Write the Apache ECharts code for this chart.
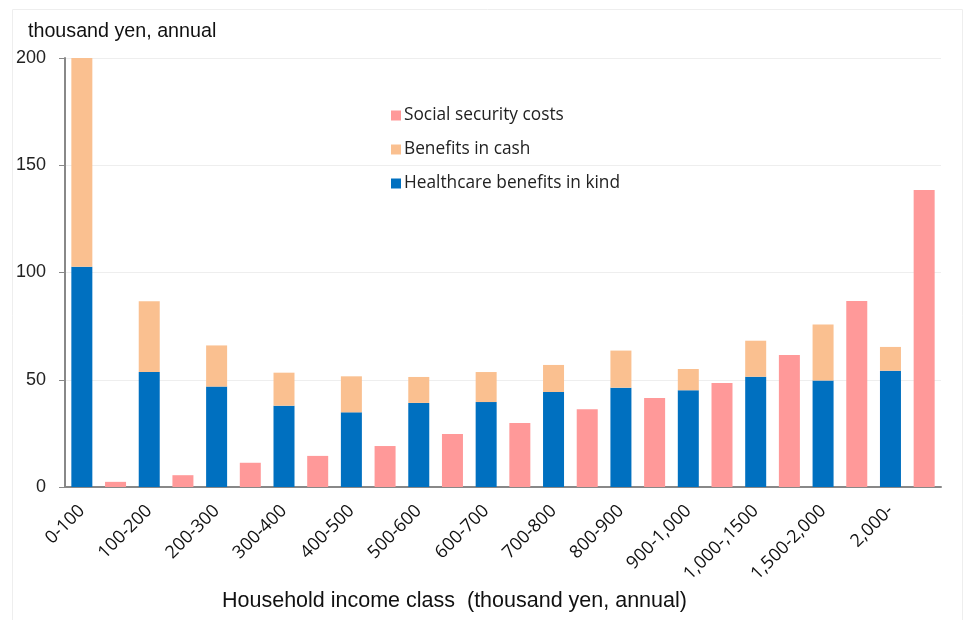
<!DOCTYPE html>
<html>
<head>
<meta charset="utf-8">
<script src="https://cdn.jsdelivr.net/npm/echarts@6/dist/echarts.min.js"></script>
<style>html,body{margin:0;padding:0;background:#fff;}#c{width:963px;height:620px;}</style>
</head>
<body>
<div id="c"></div>
<script>
const categories = ['0-100','100-200','200-300','300-400','400-500','500-600','600-700','700-800','800-900','900-1,000','1,000-,1500','1,500-2,000','2,000-'];
const healthcareInKind = [102.7, 53.6, 46.8, 37.9, 34.8, 39.2, 39.6, 44.3, 46.3, 45.1, 51.4, 49.7, 54.2];
const benefitsInCash   = [97.3, 33.0, 19.2, 15.4, 16.8, 12.1, 14.0, 12.6, 17.3, 9.9, 16.8, 26.1, 11.1];
const socialSecurityCosts = [2.4, 5.5, 11.3, 14.5, 19.1, 24.7, 29.8, 36.2, 41.5, 48.5, 61.5, 86.7, 138.5];
const yTicks = [0, 50, 100, 150, 200];

// 26 slots: benefit bar at even slot, cost bar at odd slot
const slots = [], hc = [], cash = [], cost = [];
categories.forEach((c, i) => {
  slots.push('b' + i, 'c' + i);
  hc.push(healthcareInKind[i], null);
  cash.push(benefitsInCash[i], null);
  cost.push(null, socialSecurityCosts[i]);
});

const chart = echarts.init(document.getElementById('c'));
chart.setOption({
  animation: false,
  backgroundColor: '#fff',
  graphic: [{
    type: 'rect', left: 10, top: 7,
    shape: { width: 950, height: 612 },
    style: { fill: 'none', stroke: '#eeeeee', lineWidth: 1 }
  }, {
    type: 'text', left: 28, top: 22,
    style: { text: 'thousand yen, annual', font: '19.7px "Liberation Sans", Arial, sans-serif', fill: '#111' }
  }, {
    type: 'text', left: 222, top: 590,
    style: { text: 'Household income class  (thousand yen, annual)', font: '21.5px "Liberation Sans", Arial, sans-serif', fill: '#111' }
  }],
  grid: { left: 65, right: 22, top: 58, bottom: 133, containLabel: false },
  legend: {
    orient: 'vertical',
    left: 386, top: 102,
    itemWidth: 10, itemHeight: 10, itemGap: 17,
    icon: 'rect',
    data: ['Social security costs', 'Benefits in cash', 'Healthcare benefits in kind'],
    textStyle: { fontFamily: '"Open Sans", sans-serif', fontSize: 17.3, color: '#222', padding: [0, 0, 0, -2] }
  },
  xAxis: {
    type: 'category',
    data: slots,
    axisLine: { lineStyle: { color: '#888', width: 2 } },
    axisTick: { show: false },
    axisLabel: {
      interval: 0, rotate: 45, margin: 21,
      fontFamily: '"Open Sans", sans-serif', fontSize: 18, color: '#111',
      formatter: (v, idx) => idx % 2 === 0 ? categories[idx / 2] : ''
    }
  },
  yAxis: {
    type: 'value', min: yTicks[0], max: yTicks[yTicks.length - 1], interval: 50,
    axisLine: { show: true, lineStyle: { color: '#888', width: 2 } },
    axisTick: { show: true, length: 6, lineStyle: { color: '#888' } },
    splitLine: { lineStyle: { color: '#eeeeee', width: 1 } },
    axisLabel: { fontFamily: '"Liberation Sans", Arial, sans-serif', fontSize: 18, color: '#222', margin: 19 }
  },
  series: [
    { name: 'Healthcare benefits in kind', type: 'bar', stack: 's', data: hc, barWidth: 21,
      itemStyle: { color: '#0070C0' } },
    { name: 'Benefits in cash', type: 'bar', stack: 's', data: cash, barWidth: 21,
      itemStyle: { color: '#FAC090' } },
    { name: 'Social security costs', type: 'bar', stack: 's', data: cost, barWidth: 21,
      itemStyle: { color: '#FF9999' } }
  ]
});
</script>
</body>
</html>
